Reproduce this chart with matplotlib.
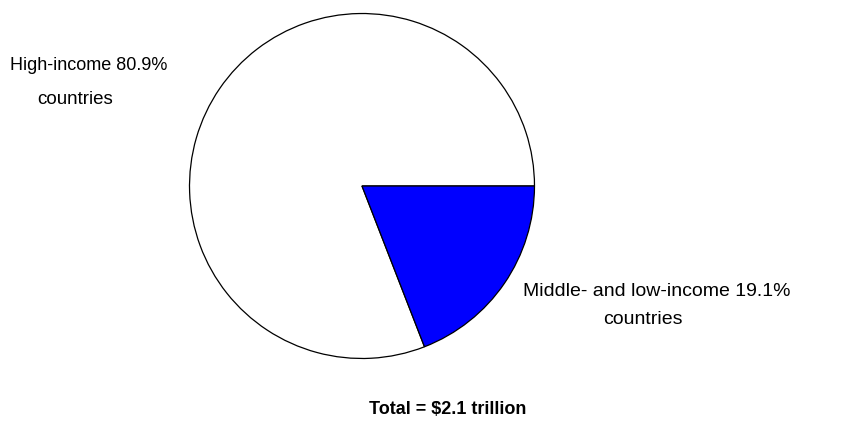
import matplotlib.pyplot as plt

plt.rcParams['font.family'] = ['Liberation Sans', 'DejaVu Sans']

groups = ['High-income', 'Middle- and low-income']
shares = [80.9, 19.1]
colors = ['white', '#0000ff']
total = 2.1

fig = plt.figure(figsize=(8.46, 4.43), dpi=100)
W, H = 846, 443
ax = fig.add_axes([189 / W, 1 - 359 / H, 346 / W, 346 / H])
ax.pie(shares, colors=colors, startangle=0, counterclock=True,
       wedgeprops=dict(edgecolor='black', linewidth=0.9))
ax.set_xlim(-1.003, 1.003)
ax.set_ylim(-1.003, 1.003)
ax.axis('off')

# slice labels
fig.text(10 / W, 1 - 65 / H, f'{groups[0]} {shares[0]}%', fontsize=13, va='center', ha='left')
fig.text(37 / W, 1 - 99 / H, 'countries', fontsize=13.5, va='center', ha='left')
fig.text(523 / W, 1 - 291 / H, f'{groups[1]} {shares[1]}%', fontsize=14, va='center', ha='left')
fig.text(603 / W, 1 - 319 / H, 'countries', fontsize=14, va='center', ha='left')

fig.text(448 / W, 1 - 410 / H, f'Total = ${total} trillion', fontsize=13,
         fontweight='bold', va='center', ha='center')

fig.savefig('out.png', dpi=100, facecolor='white')
